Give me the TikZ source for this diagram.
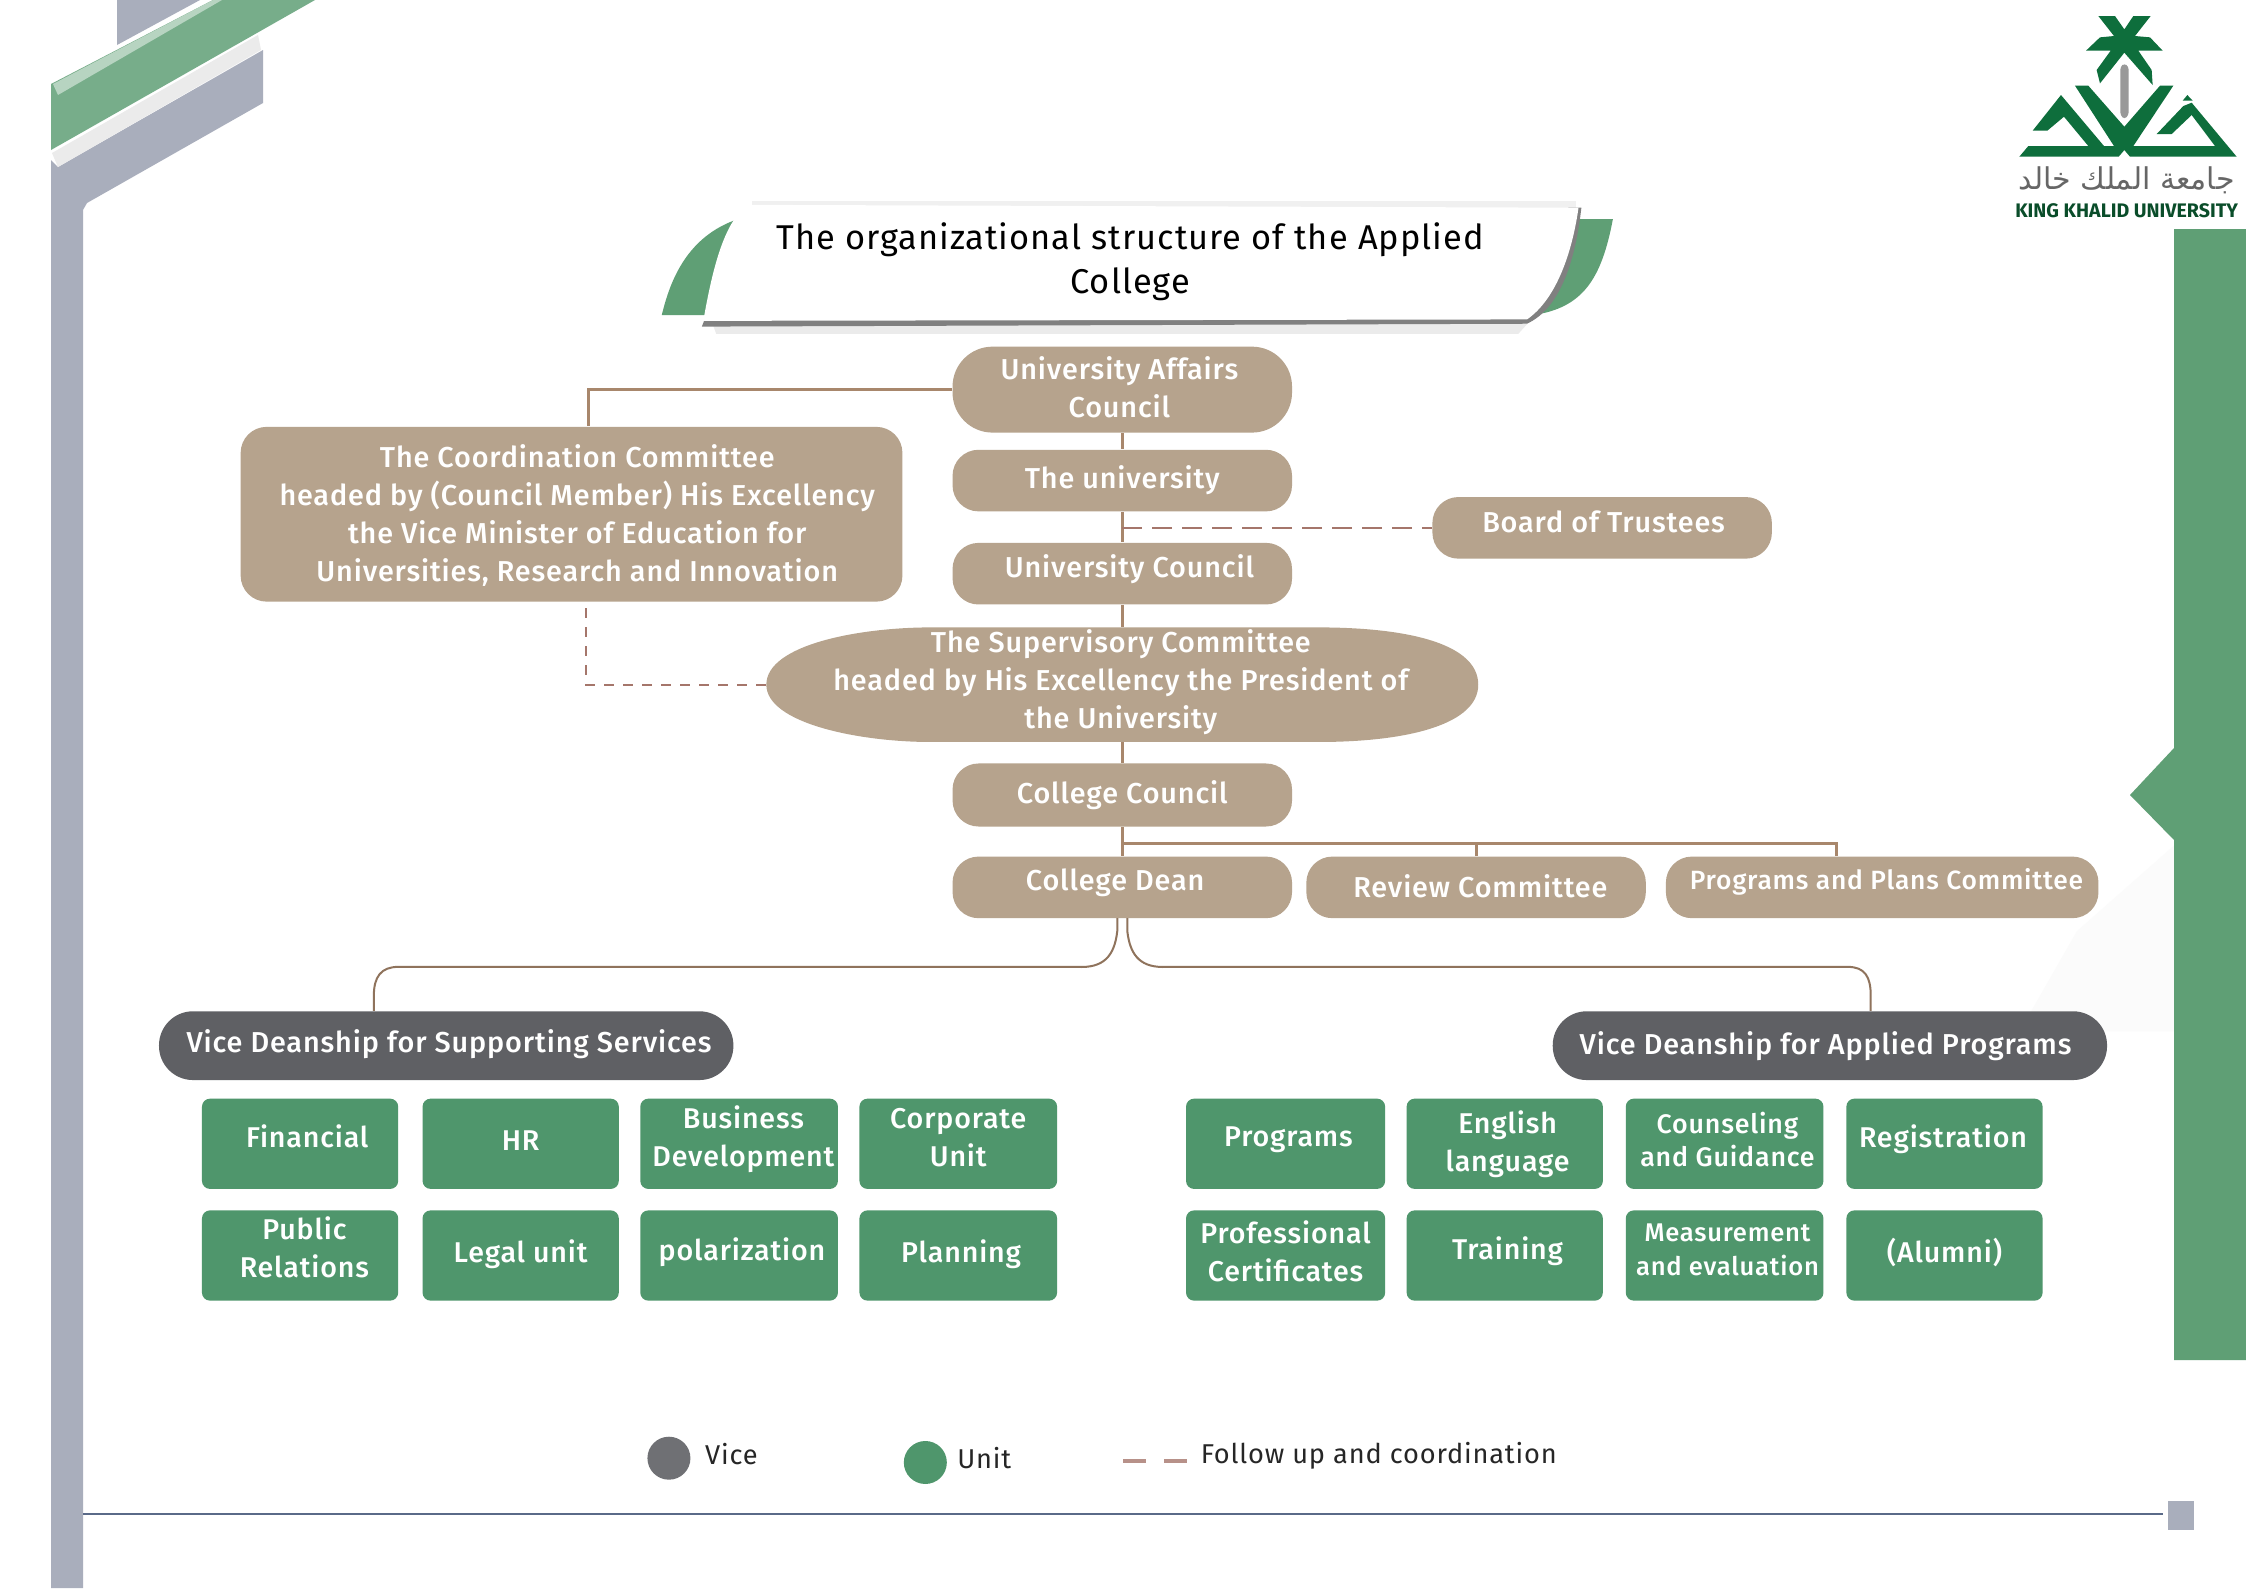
\documentclass[tikz,border=0pt]{standalone}
\usepackage{fontspec}
\setmainfont{Fira Sans}
\newfontfamily\medfont{Fira Sans Medium}
\newfontfamily\arabicfont[Script=Arabic]{DejaVu Sans}
\TeXXeTstate=1
\usetikzlibrary{calc}
\definecolor{tanbox}{HTML}{B6A38D}
\definecolor{conn}{HTML}{A8876C}
\definecolor{dashc}{HTML}{A5766B}
\definecolor{darkbox}{HTML}{5F6064}
\definecolor{greenbox}{HTML}{4F966C}
\definecolor{band}{HTML}{5F9F75}
\definecolor{steel}{HTML}{A9AEBC}
\definecolor{logog}{HTML}{0E6E3C}
\definecolor{slate}{HTML}{5A6A88}
\tikzset{
 boxtext/.style={inner sep=0pt,align=center,text=white,font=\medfont\fontsize{14.4}{19}\selectfont\addfontfeature{LetterSpace=3}},
 unittext/.style={boxtext,font=\medfont\fontsize{14.3}{19}\selectfont\addfontfeature{LetterSpace=3}},
 tanpill/.style={fill=tanbox,rounded corners=13pt,inner sep=0pt},
 plainbox/.style={inner sep=0pt},
 darkpill/.style={fill=darkbox,rounded corners=17pt,inner sep=0pt},
 unitbox/.style={fill=greenbox,rounded corners=4pt,inner sep=0pt},
 link/.style={draw=conn,line width=1.6pt},
 thinlink/.style={draw=conn!85!black,line width=1pt},
 dashlink/.style={draw=dashc,line width=1.2pt,dash pattern=on 10pt off 5pt},
 dashshort/.style={draw=dashc,line width=1pt,dash pattern=on 5pt off 4.5pt},
 legtext/.style={inner sep=0pt,anchor=west,text=black!85,font=\fontsize{13.6}{17}\selectfont\addfontfeature{LetterSpace=3}},
}
\newcommand\bxn[8][]{\node[#7,minimum width={(#5-#3)*0.7162pt},minimum height={(#6-#4)*0.7162pt},label={[boxtext,#1]center:{#8}}] (#2) at ({(#3+#5)/2},{(#4+#6)/2}) {};}
\begin{document}
\begin{tikzpicture}[x=0.7162pt,y=-0.7162pt]
\useasboundingbox (0,0) rectangle (1568,1108.7);
\fill[white] (0,0) rectangle (1568,1108.7);
\fill[black!1.5] (1518,590) -- (1518,720) -- (1410,720) -- (1450,650) -- cycle;
\begin{scope}[x=0.5pt,y=-0.5pt]
 \fill[steel] (117,0) -- (200,0) -- (117,45) -- cycle;
 \fill[steel] (51,160) -- (58,167) -- (263,50) -- (263,103) -- (87,203) -- (83,210) -- (83,1588) -- (51,1588) -- cycle;
 \fill[black!8] (52,153) -- (258,35) -- (261,50) -- (58,167) -- cycle;
 \fill[band!85!white] (51,84) -- (213,0) -- (315,0) -- (51,150) -- cycle;
 \fill[band!45!white] (53,84) -- (213,0) -- (222,0) -- (58,95) -- cycle;
 \fill[band] (2174,229) -- (2246,229) -- (2246,1360) -- (2174,1360) -- (2174,840) -- (2130,795) -- (2174,748) -- cycle;
 \draw[color=slate,line width=1.2pt] (83,1514) -- (2163,1514);
 \fill[steel] (2168,1501) rectangle (2194,1530);
\end{scope}
\begin{scope}[shift={(1368.3,0)},x=0.1667pt,y=-0.1667pt]
 \fill[logog] (415,48) -- (465,48) -- (493,88) -- (520,48) -- (572,48) -- (525,108) -- (570,112) -- (608,152) -- (535,152) -- (575,210) -- (578,255) -- (493,158) -- (420,250) -- (410,210) -- (452,152) -- (378,152) -- (420,112) -- (462,108) -- cycle;
 \fill[black!40,rounded corners=1.5pt] (481,200) -- (493,190) -- (506,200) -- (506,345) -- (493,358) -- (481,345) -- cycle;
 \fill[logog] (178,470) -- (205,438) -- (385,438) -- (312,350) -- (262,392) -- (218,392) -- (303,285) -- (432,438) -- (462,438) -- (345,257) -- (385,257) -- (493,380) -- (600,257) -- (640,257) -- (520,438) -- (765,438) -- (695,345) -- (635,402) -- (590,402) -- (670,318) -- (695,308) -- (830,470) -- (510,470) -- (493,450) -- (476,470) -- cycle;
 \fill[logog] (682,285) -- (698,302) -- (668,302) -- cycle;
 \node[inner sep=0pt,text=black!60,font=\arabicfont\fontsize{15}{15}\selectfont] (arname) at (500,540) {\beginR جامعة الملك خالد\endR};
 \node[inner sep=0pt,text=logog!70!black,font=\fontsize{9.8}{10}\selectfont\bfseries] (enname) at (500,632) {KING KHALID UNIVERSITY};
\end{scope}
% title banner
\fill[band] (515,153) .. controls (480,165) and (468,195) .. (462,220) -- (495,220) -- cycle;
\fill[band] (1100,153) -- (1126,153) .. controls (1118,195) and (1105,215) .. (1070,220) -- cycle;
\fill[black!6] (525,140) -- (1100,140) -- (1100,150) -- (525,150) -- cycle;
\fill[black!8] (496,222) -- (1070,222) -- (1060,233) -- (500,233) -- cycle;
\fill[black!50] (490,228) -- (1066,226) .. controls (1090,215) and (1100,180) .. (1104,145) -- (1095,145) -- (1060,215) -- (495,215) -- cycle;
\fill[white] (491,224) -- (1066,223) .. controls (1085,210) and (1097,180) .. (1102,145) -- (522,143) .. controls (505,155) and (497,190) .. (491,224) -- cycle;
\node[inner sep=0pt,align=center,text=black,font=\fontsize{17.2}{22}\selectfont\addfontfeature{LetterSpace=3}] (title) at (789,183) {The organizational structure of the Applied\\College};
% nodes
\bxn[shift={(-2,-2)}]{uac}{665}{242}{902}{302}{tanpill,rounded corners=20pt}{University Affairs\\Council}
\bxn{univ}{665}{314}{902}{357}{tanpill}{The university}
\bxn[shift={(5,-3)}]{ucouncil}{665}{379}{902}{422}{tanpill}{University Council}
\bxn[shift={(1,-4)}]{board}{1000}{347}{1237}{390}{tanpill}{Board of Trustees}
\bxn[shift={(4,1)}]{coord}{168}{298}{630}{420}{tanpill}{The Coordination Committee\\headed by (Council Member) His Excellency\\the Vice Minister of Education for\\Universities, Research and Innovation}
\fill[tanbox] (535,478) .. controls (535,450) and (600,438) .. (650,438) -- (920,438) .. controls (985,438) and (1032,450) .. (1032,478) .. controls (1032,505) and (985,518) .. (920,518) -- (650,518) .. controls (600,518) and (535,505) .. (535,478) -- cycle;
\bxn[shift={(-1,-2)}]{super}{535}{438}{1032}{518}{plainbox}{The Supervisory Committee\\headed by His Excellency the President of\\the University}
\bxn{ccouncil}{665}{533}{902}{577}{tanpill}{College Council}
\bxn[shift={(-5,-3)}]{dean}{665}{598}{902}{641}{tanpill}{College Dean}
\bxn[shift={(3,-1)}]{review}{912}{598}{1149}{641}{tanpill}{Review Committee}
\bxn[shift={(3,-4)},font=\medfont\fontsize{13.2}{19}\selectfont\addfontfeature{LetterSpace=3}]{plans}{1163}{598}{1465}{641}{tanpill}{Programs and Plans Committee}
\bxn[shift={(2,-1)}]{vs}{111}{706}{512}{754}{darkpill}{Vice Deanship for Supporting Services}
\bxn[shift={(-3,0)}]{va}{1084}{706}{1471}{754}{darkpill}{Vice Deanship for Applied Programs}
\bxn[unittext,shift={(5,-5)}]{u1}{141}{767}{278}{830}{unitbox}{Financial}
\bxn[unittext,shift={(0,-2)}]{u2}{295}{767}{432}{830}{unitbox}{HR}
\bxn[unittext,shift={(3,-3)}]{u3}{447}{767}{585}{830}{unitbox}{Business\\Development}
\bxn[unittext,shift={(0,-4)}]{u4}{600}{767}{738}{830}{unitbox}{Corporate\\Unit}
\bxn[unittext,shift={(3,-6)}]{u5}{141}{845}{278}{908}{unitbox}{Public\\Relations}
\bxn[unittext,shift={(0,-1)}]{u6}{295}{845}{432}{908}{unitbox}{Legal unit}
\bxn[unittext,shift={(2,-2)}]{u7}{447}{845}{585}{908}{unitbox}{polarization}
\bxn[unittext,shift={(2,-1)}]{u8}{600}{845}{738}{908}{unitbox}{Planning}
\bxn[unittext,shift={(2,-3)}]{a1}{828}{767}{967}{830}{unitbox}{Programs}
\bxn[unittext,shift={(2,0)}]{a2}{982}{767}{1119}{830}{unitbox}{English\\language}
\bxn[unittext,shift={(2,-3)},font=\medfont\fontsize{13.4}{16.5}\selectfont\addfontfeature{LetterSpace=3}]{a3}{1135}{767}{1273}{830}{unitbox}{Counseling\\and Guidance}
\bxn[unittext,shift={(-1,-3)}]{a4}{1289}{767}{1426}{830}{unitbox}{Registration}
\bxn[unittext,shift={(0,-3)}]{a5}{828}{845}{967}{908}{unitbox}{Professional\\Certificates}
\bxn[unittext,shift={(2,-3)}]{a6}{982}{845}{1119}{908}{unitbox}{Training}
\bxn[unittext,shift={(2,-4)},font=\medfont\fontsize{12.8}{17}\selectfont\addfontfeature{LetterSpace=3}]{a7}{1135}{845}{1273}{908}{unitbox}{Measurement\\and evaluation}
\bxn[unittext,shift={(0,-2)}]{a8}{1289}{845}{1426}{908}{unitbox}{(Alumni)}
% connectors
\coordinate (j1) at (783.5,368.5);
\coordinate (j2) at (783.5,589);
\coordinate (dl) at (780,641);
\coordinate (dr) at (787,641);
\draw[link] (uac.west) -| (coord.north -| 411,0);
\draw[link] (uac.south) -- (univ.north);
\draw[link] (univ.south) -- (ucouncil.north);
\draw[link] (ucouncil.south) -- (super.north);
\draw[link] (super.south) -- (ccouncil.north);
\draw[link] (ccouncil.south) -- (dean.north);
\draw[link] (j2) -| (plans.north -| 1282,0);
\draw[link] (review.north) -- (review.north |- j2);
\draw[dashlink] (j1) -- (board.west);
\draw[dashshort] (super.west) -| (coord.south -| 409,0);
\draw[thinlink] (dl) -- (780,650) .. controls (778,668) and (770,676) .. (752,675) -- (278,675) .. controls (266,675) and (261,682) .. (261,695) -- (vs.north -| 261,0);
\draw[thinlink] (dr) -- (787,650) .. controls (789,668) and (797,676) .. (815,675) -- (1290,675) .. controls (1302,675) and (1306,682) .. (1306,695) -- (va.north -| 1306,0);
% legend
\node[circle,fill=darkbox!90!white,minimum size=21.5pt,inner sep=0pt] (lv) at (467,1018) {};
\node[circle,fill=greenbox,minimum size=21.5pt,inner sep=0pt] (lu) at (646,1021) {};
\node[legtext] (lvt) at (492,1015) {Vice};
\node[legtext] (lut) at (668,1018) {Unit};
\node[legtext] (lft) at (838,1016) {Follow up and coordination};
\coordinate (ld1) at (784,1020);
\coordinate (ld2) at (829,1020);
\draw[draw=dashc!80!white,line width=2pt,dash pattern=on 11.5pt off 9pt] (ld1) -- (ld2);
\end{tikzpicture}
\end{document}
